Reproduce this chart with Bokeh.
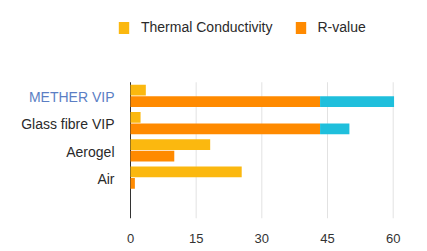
from bokeh.plotting import figure
from bokeh.models import FactorRange, Range1d, Legend, LegendItem, ColumnDataSource
from bokeh.transform import dodge
from bokeh.core.properties import value
from bokeh.embed import file_html
from bokeh.resources import INLINE

categories = ["METHER VIP", "Glass fibre VIP", "Aerogel", "Air"]
thermal_conductivity = [3.5, 2.3, 18.2, 25.4]
r_value = [43.3, 43.3, 10.0, 1.0]
r_extra = [16.9, 6.7, 0.0, 0.0]
label_colors = ["#5b7ec4", "#2a2a2a", "#2a2a2a", "#2a2a2a"]
x_ticks = [0, 15, 30, 45, 60]

FONT = "Liberation Sans"
C_TC = "#fbb80f"
C_R = "#ff8a00"
C_X = "#1fbfdc"

# layout (pixels)
W, H = 419, 245
BOTTOM = 25
ZERO_PX, MAX_PX = 130, 394
X_MAX = 60.3
scale = (MAX_PX - ZERO_PX) / X_MAX
x_start = -ZERO_PX / scale
x_end = X_MAX + (W - MAX_PX) / scale

bottom_pad = " "
top_pads = ["  ", "   ", "    "]
factors = [bottom_pad] + categories[::-1] + top_pads

p = figure(width=W, height=H, output_backend="svg", toolbar_location=None,
           y_range=FactorRange(factors=factors, range_padding=0.0),
           x_range=Range1d(x_start, x_end),
           min_border_left=0, min_border_right=0, min_border_top=0, min_border_bottom=BOTTOM)
p.outline_line_color = None
p.background_fill_color = "white"
p.border_fill_color = "white"

src = ColumnDataSource(dict(
    cat=categories,
    tc=thermal_conductivity,
    r=r_value,
    rend=[a + b for a, b in zip(r_value, r_extra)],
    zero=[0] * len(categories),
    lc=label_colors,
))

# grid lines and axis line restricted to the category area
gsrc = ColumnDataSource(dict(
    x=x_ticks,
    y0=[bottom_pad] * len(x_ticks),
    y1=[categories[0]] * len(x_ticks),
    col=["#333333"] + ["#e2e2e2"] * (len(x_ticks) - 1),
))
p.segment(x0="x", x1="x", y0=dodge("y0", -0.5, range=p.y_range), y1=dodge("y1", 0.5, range=p.y_range),
          source=gsrc, line_color="col", line_width=1)

h = 0.4
tc_r = p.hbar(y=dodge("cat", 0.21, range=p.y_range), left="zero", right="tc", height=h,
              source=src, color=C_TC, line_color=None)
r_r = p.hbar(y=dodge("cat", -0.21, range=p.y_range), left="zero", right="r", height=h,
             source=src, color=C_R, line_color=None)
p.hbar(y=dodge("cat", -0.21, range=p.y_range), left="r", right="rend", height=h,
       source=src, color=C_X, line_color=None)

p.text(x="zero", y=dodge("cat", -0.05, range=p.y_range), text="cat", source=src,
       text_align="right", text_baseline="middle", x_offset=-16,
       text_font=value(FONT), text_font_size="14px", text_color="lc")

# axes
p.yaxis.visible = False
p.ygrid.grid_line_color = None
p.xgrid.grid_line_color = None

p.xaxis.ticker = x_ticks
p.xaxis.axis_line_color = None
p.xaxis.major_tick_line_color = None
p.xaxis.minor_tick_line_color = None
p.xaxis.major_label_standoff = 9
p.xaxis.major_label_text_font = FONT
p.xaxis.major_label_text_font_size = "13px"
p.xaxis.major_label_text_color = "#333333"

legend = Legend(items=[LegendItem(label="Thermal Conductivity", renderers=[tc_r]),
                       LegendItem(label="R-value", renderers=[r_r])],
                orientation="horizontal", location=(117, 183),
                padding=0, margin=0, spacing=21, border_line_color=None,
                background_fill_alpha=0, glyph_width=13, glyph_height=15,
                label_standoff=11, label_height=15,
                label_text_font=FONT, label_text_font_size="14px", label_text_color="#2a2a2a")
p.add_layout(legend, "center")

open("out.html", "w").write(file_html(p, INLINE))
